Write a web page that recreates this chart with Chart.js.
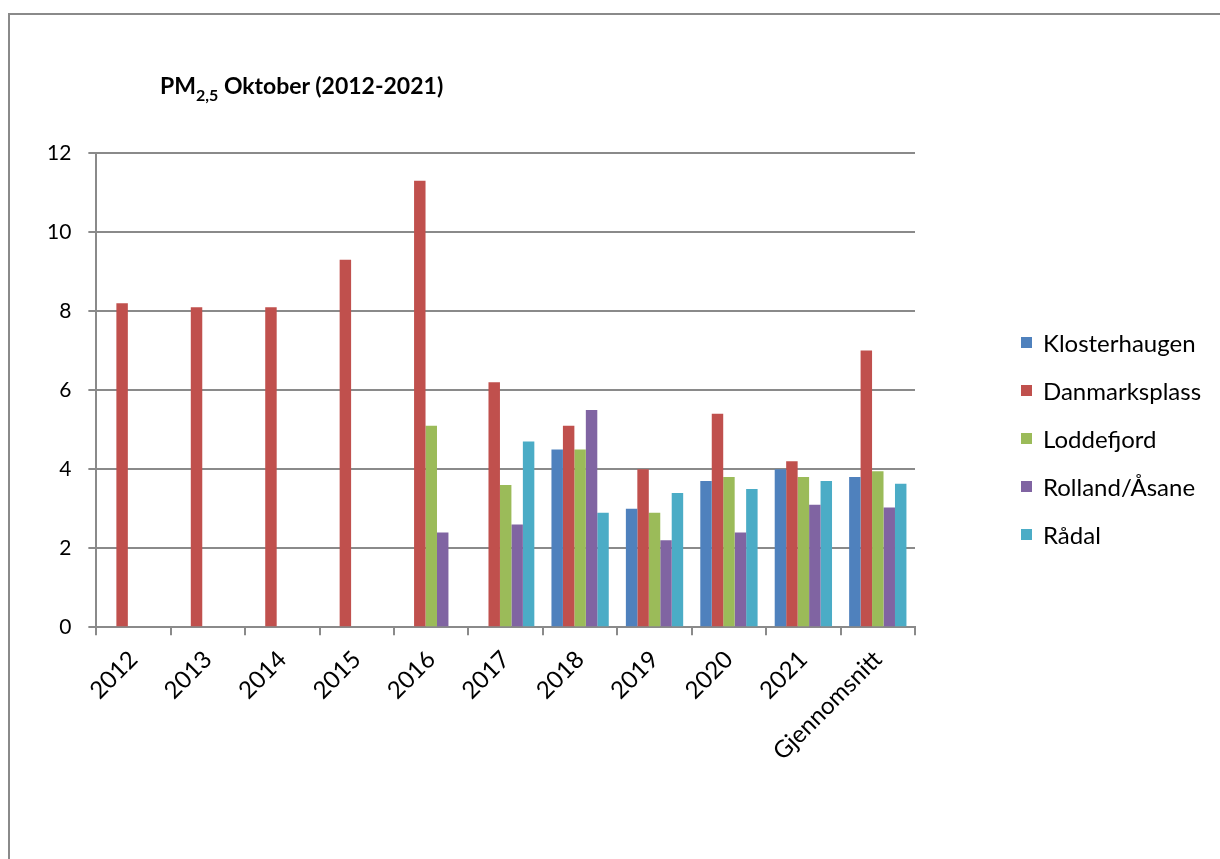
<!DOCTYPE html>
<html lang="no">
<head>
  <meta charset="UTF-8">
  <title>PM2,5 Oktober</title>
</head>
<body>

<style>
  html, body { margin: 0; padding: 0; overflow: hidden; background: #fff; }
  #ramme { position: absolute; left: 8px; top: 13px; width: 1400px; height: 1000px; border: 2px solid #8a8a8a; }
  #tittel { position: absolute; left: 160px; top: 71px; font: bold 23px Lato, sans-serif; color: #000; white-space: nowrap; }
  #tittel sub { font-size: 16px; vertical-align: -7px; line-height: 0; }
  #wrap { position: absolute; left: 0; top: 0; width: 1220px; height: 859px; }
  #legende { position: absolute; left: 1021px; top: 328px; font: 24px Lato, sans-serif; }
  #legende div { height: 48px; display: flex; align-items: flex-start; }
  #legende span.boks { display: inline-block; width: 11px; height: 11px; margin-top: 9px; margin-right: 11px; }
</style>

<div id="ramme"></div>
<div id="wrap">
  <canvas id="myChart" width="1220" height="859"></canvas>
</div>
<div id="tittel">PM<sub>2,5</sub> Oktober (2012-2021)</div>
<div id="legende"></div>

<script src="https://cdn.jsdelivr.net/npm/chart.js"></script>

<script>
  const kategorier = ['2012','2013','2014','2015','2016','2017','2018','2019','2020','2021','Gjennomsnitt'];

  const klosterhaugen = [null, null, null, null, null, null, 4.5, 3.0, 3.7, 4.0, 3.8];
  const danmarksplass = [8.2, 8.1, 8.1, 9.3, 11.3, 6.2, 5.1, 4.0, 5.4, 4.2, 7.0];
  const loddefjord    = [null, null, null, null, 5.1, 3.6, 4.5, 2.9, 3.8, 3.8, 3.95];
  const rollandAasane = [null, null, null, null, 2.4, 2.6, 5.5, 2.2, 2.4, 3.1, 3.03];
  const raadal        = [null, null, null, null, null, 4.7, 2.9, 3.4, 3.5, 3.7, 3.63];

  const yTicks = [0, 2, 4, 6, 8, 10, 12];

  const serier = [
    { navn: 'Klosterhaugen', data: klosterhaugen, farge: '#4F81BD' },
    { navn: 'Danmarksplass', data: danmarksplass, farge: '#C0504D' },
    { navn: 'Loddefjord', data: loddefjord, farge: '#9BBB59' },
    { navn: 'Rolland/Åsane', data: rollandAasane, farge: '#8064A2' },
    { navn: 'Rådal', data: raadal, farge: '#4BACC6' }
  ];

  // legende som html, bygget fra seriene
  const leg = document.getElementById('legende');
  serier.forEach(s => {
    const d = document.createElement('div');
    d.innerHTML = '<span class="boks" style="background:' + s.farge + '"></span>' + s.navn;
    leg.appendChild(d);
  });

  const gra = '#8a8a8a';

  const ctx = document.getElementById('myChart');
  new Chart(ctx, {
    type: 'bar',
    data: {
      labels: kategorier,
      datasets: serier.map(s => ({
        label: s.navn,
        data: s.data,
        backgroundColor: s.farge,
        borderWidth: 0,
        categoryPercentage: 0.77,
        barPercentage: 1.0
      }))
    },
    options: {
      responsive: false,
      animation: false,
      devicePixelRatio: 1,
      layout: { padding: { left: 30, right: 305, top: 153, bottom: 83 } },
      plugins: {
        legend: { display: false },
        tooltip: { enabled: false }
      },
      scales: {
        x: {
          grid: { display: true, drawOnChartArea: false, offset: true, color: gra, lineWidth: 2, tickLength: 8 },
          border: { display: true, color: gra, width: 2 },
          ticks: {
            color: '#000',
            font: { family: 'Lato', size: 24 },
            maxRotation: 45,
            minRotation: 45,
            padding: 10
          }
        },
        y: {
          min: 0,
          max: 12,
          afterBuildTicks: axis => { axis.ticks = yTicks.map(v => ({ value: v })); },
          grid: { color: gra, lineWidth: 2, tickLength: 8 },
          border: { display: true, color: gra, width: 2 },
          ticks: {
            color: '#000',
            font: { family: 'Lato', size: 21 },
            padding: 17
          }
        }
      }
    }
  });
</script>
</body>
</html>
